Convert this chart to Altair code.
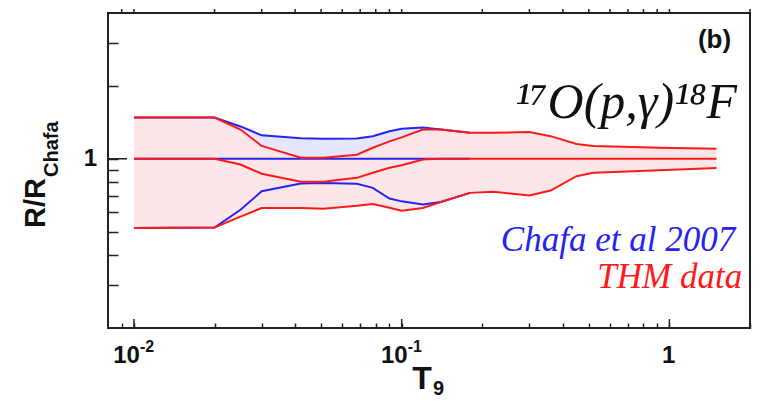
import altair as alt
import pandas as pd

# ---------------- data ----------------
T9 = [0.01, 0.02, 0.025, 0.03, 0.042, 0.051, 0.068, 0.078, 0.09, 0.1,
      0.12, 0.14, 0.18, 0.22, 0.30, 0.36, 0.45, 0.52, 0.92, 1.5]
thm_upper = [1.48, 1.48, 1.32, 1.13, 1.01, 1.01, 1.04, 1.11, 1.18, 1.225,
             1.32, 1.32, 1.28, 1.28, 1.29, 1.24, 1.15, 1.13, 1.11, 1.10]
thm_center = [1.0, 1.0, 0.947, 0.867, 0.803, 0.803, 0.834, 0.875, 0.918, 0.94,
              0.993, 1.0, 1.0, 1.0, 1.0, 1.0, 1.0, 1.0, 1.0, 1.0]
thm_lower = [0.518, 0.52, 0.577, 0.626, 0.626, 0.622, 0.64, 0.651, 0.628, 0.61,
             0.626, 0.663, 0.723, 0.73, 0.705, 0.739, 0.847, 0.875, 0.897, 0.915]

T9_chafa = [0.01, 0.02, 0.025, 0.03, 0.042, 0.051, 0.068, 0.078, 0.09, 0.1,
            0.12, 0.14, 0.18]
chafa_upper = [1.48, 1.48, 1.36, 1.25, 1.215, 1.21, 1.214, 1.24, 1.30, 1.33,
               1.345, 1.32, 1.28]
chafa_center = [1.0] * 13
chafa_lower = [0.518, 0.52, 0.616, 0.734, 0.79, 0.795, 0.788, 0.758, 0.685, 0.667,
               0.647, 0.663, 0.723]

x_ticks = [0.009, 0.01, 0.02, 0.03, 0.04, 0.05, 0.06, 0.07, 0.08, 0.09,
           0.1, 0.2, 0.3, 0.4, 0.5, 0.6, 0.7, 0.8, 0.9, 1, 2]
x_major = [0.01, 0.1, 1]
x_label_base = ["10", "10", "1"]
x_label_exp = ["-2", "-1", ""]
y_ticks = [0.3, 0.4, 0.5, 0.6, 0.7, 0.8, 0.9, 1, 2, 3]
y_major = [1]
y_label = ["1"]

# ---------------- layout / style ----------------
W, H = 642, 315
RED = "#ff1a1a"
BLUE = "#2424f0"
FRAME = "#222222"
BOLD = "Liberation Sans"
SCRIPT = "Liberation Serif"

xscale = alt.Scale(type="log", domain=[0.008, 2], nice=False)
yscale = alt.Scale(type="log", domain=[0.2, 4], nice=False)
xaxis = alt.Axis(orient="bottom", values=x_ticks, tickSize=5, offset=-5, labels=False,
                 domain=False, grid=False, title=None, tickColor=FRAME, tickWidth=1.5, zindex=1)
yaxis = alt.Axis(orient="left", values=y_ticks, tickSize=10, offset=-10, labels=False,
                 domain=False, grid=False, title=None, tickColor=FRAME, tickWidth=1.5, zindex=1)


def X(f):
    return alt.X(f, type="quantitative", scale=xscale, axis=xaxis)


def Y(f):
    return alt.Y(f, type="quantitative", scale=yscale, axis=yaxis)


thm = pd.DataFrame({"T9": T9, "lo": thm_lower, "hi": thm_upper})
chafa = pd.DataFrame({"T9": T9_chafa, "lo": chafa_lower, "hi": chafa_upper})


def long(xs, curves):
    rows = []
    for name, ys in curves.items():
        for x, y in zip(xs, ys):
            rows.append({"T9": x, "R": y, "curve": name})
    return pd.DataFrame(rows)


thm_long = long(T9, {"up": thm_upper, "mid": thm_center, "low": thm_lower})
chafa_long = long(T9_chafa, {"up": chafa_upper, "mid": chafa_center, "low": chafa_lower})

blue_area = alt.Chart(chafa).mark_area(color="#e5e6fb").encode(x=X("T9"), y=Y("lo"), y2="hi")
red_area = alt.Chart(thm).mark_area(color="#fde6e8").encode(x=X("T9"), y=Y("lo"), y2="hi")
blue_lines = alt.Chart(chafa_long).mark_line(color=BLUE, strokeWidth=2).encode(
    x=X("T9"), y=Y("R"), detail="curve:N")
red_lines = alt.Chart(thm_long).mark_line(color=RED, strokeWidth=2).encode(
    x=X("T9"), y=Y("R"), detail="curve:N")

top_ticks = alt.Chart(pd.DataFrame({"T9": x_ticks})).mark_rule(
    color=FRAME, strokeWidth=1.5).encode(x=X("T9"), y=alt.value(0), y2=alt.value(-4))
bottom_major = alt.Chart(pd.DataFrame({"T9": x_major})).mark_rule(
    color=FRAME, strokeWidth=1.5).encode(x=X("T9"), y=alt.value(H), y2=alt.value(H - 9))
left_major = alt.Chart(pd.DataFrame({"R": y_major})).mark_rule(
    color=FRAME, strokeWidth=1.5).encode(y=Y("R"), x=alt.value(0), x2=alt.value(19))

xlab_df = pd.DataFrame({"T9": x_major, "base": x_label_base, "exp": x_label_exp})
xlab = alt.Chart(xlab_df).mark_text(align="right", dx=6, baseline="alphabetic", fontSize=24,
                                    fontWeight="bold", font=BOLD, color="#111").encode(
    x=X("T9"), y=alt.value(350), text="base:N")
xexp = alt.Chart(xlab_df).mark_text(align="left", dx=6, baseline="alphabetic", fontSize=16,
                                    fontWeight="bold", font=BOLD, color="#111").encode(
    x=X("T9"), y=alt.value(339), text="exp:N")
ylab = alt.Chart(pd.DataFrame({"R": y_major, "t": y_label})).mark_text(
    align="right", baseline="middle", fontSize=24, fontWeight="bold", font=BOLD, color="#111").encode(
    y=Y("R"), x=alt.value(-11), text="t:N")

ytitle = alt.Chart(pd.DataFrame({"t": ["R/R"]})).mark_text(
    angle=270, align="left", baseline="alphabetic", fontSize=29, fontWeight="bold", font=BOLD,
    color="#111").encode(x=alt.value(-63), y=alt.value(215), text="t:N")
ysub = alt.Chart(pd.DataFrame({"t": ["Chafa"]})).mark_text(
    angle=270, align="left", baseline="alphabetic", fontSize=20, fontWeight="bold", font=BOLD,
    color="#111").encode(x=alt.value(-50), y=alt.value(164), text="t:N")
xtitle = alt.Chart(pd.DataFrame({"t": ["T"]})).mark_text(
    align="center", baseline="alphabetic", fontSize=32, fontWeight="bold", font=BOLD,
    color="#111").encode(x=alt.value(314), y=alt.value(376), text="t:N")
xsub = alt.Chart(pd.DataFrame({"t": ["9"]})).mark_text(
    align="left", baseline="alphabetic", fontSize=20, fontWeight="bold", font=BOLD,
    color="#111").encode(x=alt.value(325), y=alt.value(382), text="t:N")

panel = alt.Chart(pd.DataFrame({"T9": [1.70], "R": [3.09], "t": ["(b)"]})).mark_text(
    align="right", baseline="middle", fontSize=26, fontWeight="bold", font=BOLD,
    color="#111").encode(x=X("T9"), y=Y("R"), text="t:N")
reaction = alt.Chart(pd.DataFrame({"T9": [1.79], "R": [1.70], "t": ["¹⁷O(p,γ)¹⁸F"]})).mark_text(
    align="right", baseline="middle", fontSize=50, fontStyle="italic", font=SCRIPT,
    color="#111").encode(x=X("T9"), y=Y("R"), text="t:N")
leg_chafa = alt.Chart(pd.DataFrame({"T9": [1.76], "R": [0.462], "t": ["Chafa et al 2007"]})).mark_text(
    align="right", baseline="middle", fontSize=35, fontStyle="italic", font=SCRIPT,
    color=BLUE).encode(x=X("T9"), y=Y("R"), text="t:N")
leg_thm = alt.Chart(pd.DataFrame({"T9": [1.87], "R": [0.325], "t": ["THM data"]})).mark_text(
    align="right", baseline="middle", fontSize=35, fontStyle="italic", font=SCRIPT,
    color=RED).encode(x=X("T9"), y=Y("R"), text="t:N")

chart = alt.layer(
    blue_area, red_area, blue_lines, red_lines,
    top_ticks, bottom_major, left_major,
    xlab, xexp, ylab, ytitle, ysub, xtitle, xsub,
    panel, reaction, leg_chafa, leg_thm,
).properties(
    width=W, height=H,
    autosize=alt.AutoSizeParams(type="none"),
    padding={"left": 100, "top": 5, "right": 3, "bottom": 72},
).configure_view(stroke=FRAME, strokeWidth=2)

chart.save("out.html", embed_options={"renderer": "svg", "actions": False})
